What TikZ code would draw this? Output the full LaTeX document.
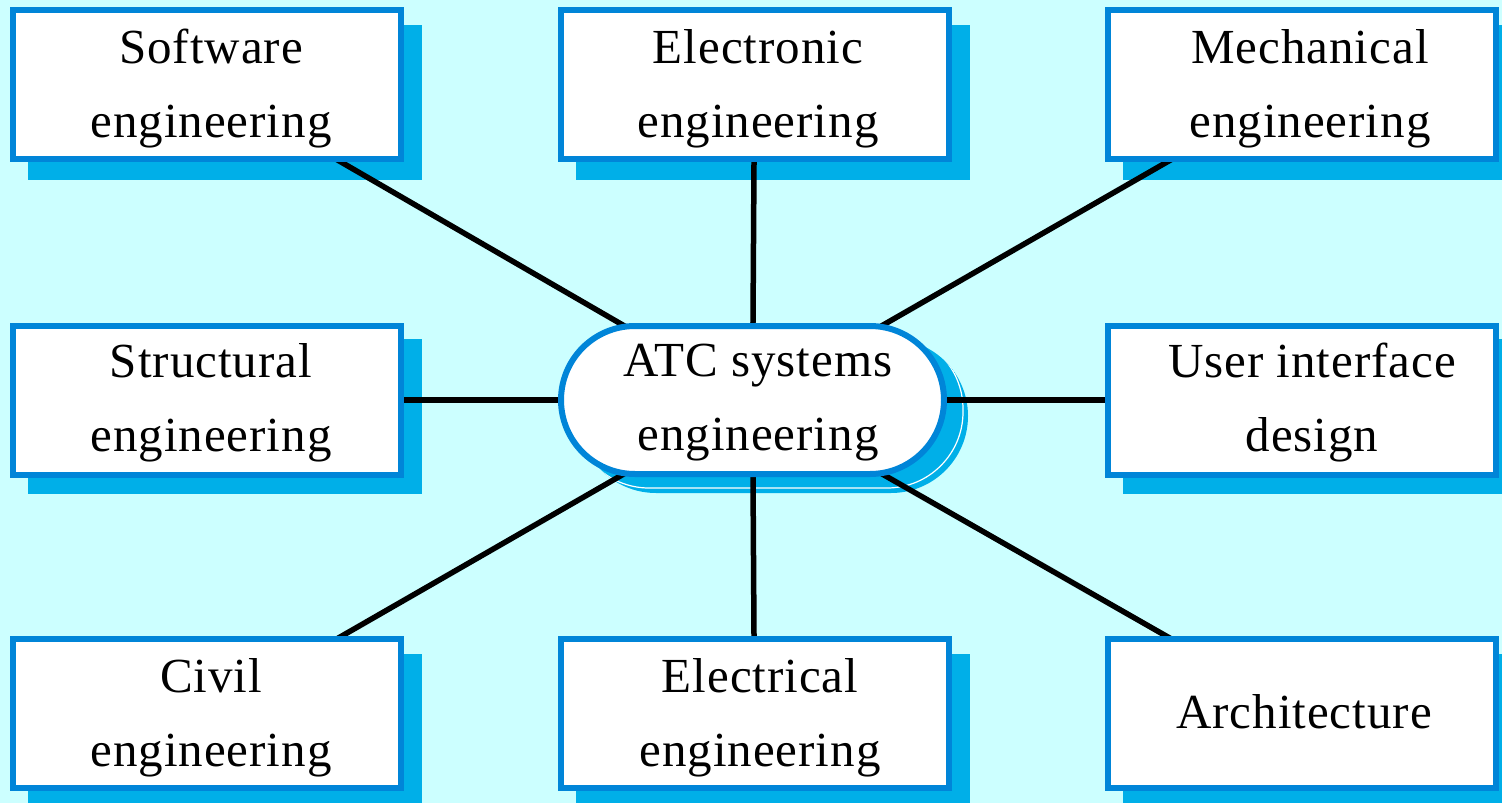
\documentclass[tikz,border=0pt]{standalone}
\usepackage{fontspec}
\setmainfont{Liberation Serif}[LetterSpace=2.0]
\definecolor{bgc}{RGB}{204,255,255}
\definecolor{bordc}{RGB}{0,133,216}
\definecolor{shadc}{RGB}{0,175,232}
\pgfdeclarelayer{shadowlayer}
\pgfdeclarelayer{linelayer}
\pgfsetlayers{shadowlayer,linelayer,main}
\tikzset{
  box/.style={draw=bordc, line width=6pt, fill=white, rectangle, minimum width=388pt, minimum height=149pt, inner sep=0pt},
  shad/.style={fill=shadc, rectangle, minimum width=394pt, minimum height=155pt, inner sep=0pt},
  pill/.style={draw=bordc, line width=6pt, fill=white, rectangle, rounded corners=74pt, minimum width=383pt, minimum height=148pt, inner sep=0pt},
  lbl/.style={align=center, inner sep=0pt, font=\fontsize{49}{74}\selectfont},
  link/.style={line width=5.5pt, black}
}
\begin{document}
\begin{tikzpicture}[x=1pt,y=-1pt]
\useasboundingbox (0,0) rectangle (1502,803);
\begin{pgfonlayer}{shadowlayer}
  \fill[bgc] (0,0) rectangle (1502,803);
  \node[shad] (s1) at (225,102.5) {};
  \node[shad] (s2) at (772.5,102.5) {};
  \node[shad] (s3) at (1320,102.5) {};
  \node[shad] (s4) at (225,416.5) {};
  \node[shad] (s6) at (1320,416.5) {};
  \node[shad] (s7) at (225,731.5) {};
  \node[shad] (s8) at (772.5,731.5) {};
  \node[shad] (s9) at (1320,731.5) {};
  \fill[shadc, rounded corners=77pt] (579,339) rectangle (968,493);
  \begin{scope}
    \clip[rounded corners=77pt] (579,339) rectangle (968,493);
    \draw[white, line width=1.2pt, rounded corners=76pt] (573,333) rectangle (963,488);
  \end{scope}
\end{pgfonlayer}

\node[box] (b1) at (207,84.5) {};
\node[box] (b2) at (754.5,84.5) {};
\node[box] (b3) at (1302,84.5) {};
\node[box] (b4) at (207,400) {};
\node[pill] (c) at (752.5,400) {};
\node[box] (b6) at (1302,400) {};
\node[box] (b7) at (207,713.5) {};
\node[box] (b8) at (754.5,713.5) {};
\node[box] (b9) at (1302,713.5) {};

\node[lbl] (t1) at (211,89) {Software\\engineering};
\node[lbl] (t2) at (758,89) {Electronic\\engineering};
\node[lbl] (t3) at (1310,89) {Mechanical\\engineering};
\node[lbl] (t4) at (211,403) {Structural\\engineering};
\node[lbl] (tc) at (758,403) {ATC systems\\engineering};
\node[lbl] (t6) at (1312,403) {User interface\\design};
\node[lbl] (t7) at (211,718) {Civil\\engineering};
\node[lbl] (t8) at (760,718) {Electrical\\engineering};
\node[lbl] (t9) at (1304,711.5) {Architecture};

\begin{pgfonlayer}{linelayer}
  \foreach \n in {b1,b2,b3,b4,b6,b7,b8,b9}
    \draw[link] (c.center) -- (\n.center);
\end{pgfonlayer}
\end{tikzpicture}
\end{document}
